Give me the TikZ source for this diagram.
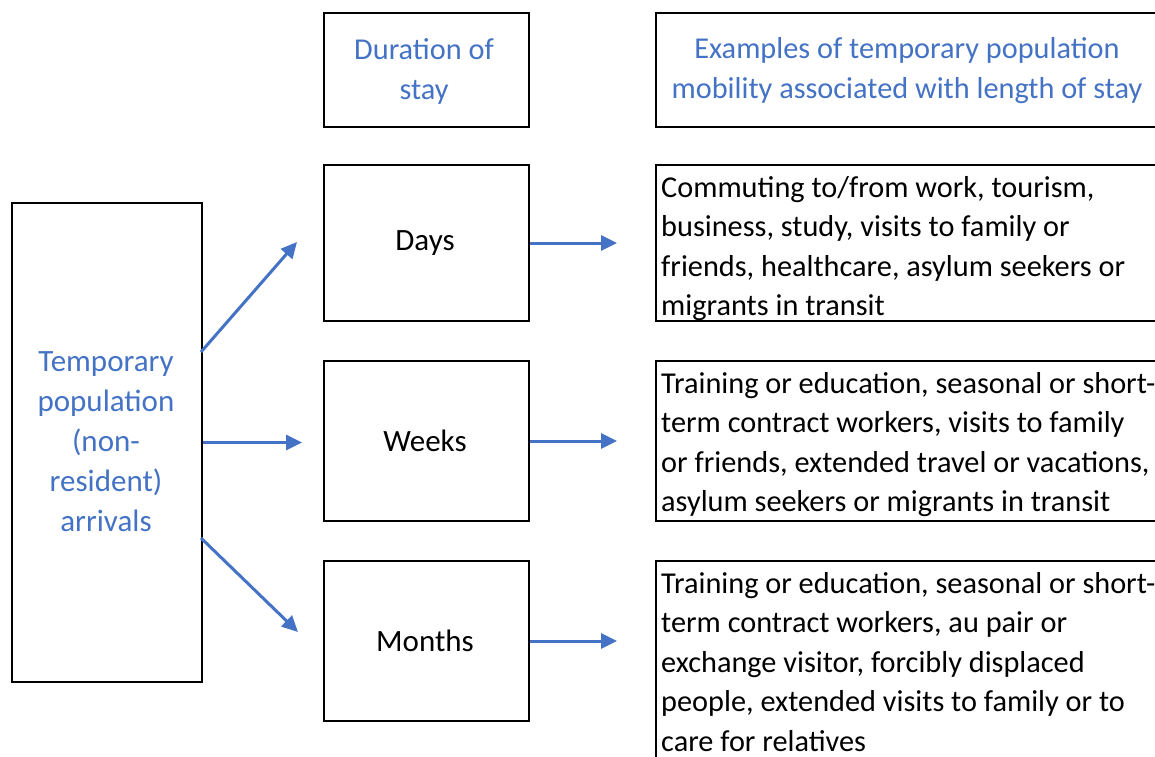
\documentclass[tikz,border=0pt]{standalone}
\usepackage{fontspec}
\setmainfont{Carlito}
\usetikzlibrary{arrows.meta}
\definecolor{mblue}{HTML}{4472C4}
\tikzset{
  box/.style={draw=black, line width=2pt, inner sep=0pt, anchor=north west},
  arr/.style={draw=mblue, line width=3pt, -{Triangle[length=16pt,width=15pt]}},
  body/.style={inner sep=0pt, anchor=north west, align=left, font=\fontsize{30.3}{39.5}\selectfont},
  hdr/.style={inner sep=0pt, align=center, text=mblue, font=\fontsize{30.3}{40}\selectfont},
  lbl/.style={inner sep=0pt, font=\fontsize{31}{40}\selectfont}
}
\begin{document}
\begin{tikzpicture}[x=1pt,y=-1pt]
\useasboundingbox (0,0) rectangle (1155,756);
% left box
\node[box, minimum width=190pt, minimum height=479pt] (src) at (11,202) {};
\node[inner sep=0pt, align=center, text=mblue, font=\fontsize{31}{40}\selectfont] (srct) at (106,442) {Temporary\\population\\(non-\\resident)\\arrivals};
% headers
\node[box, minimum width=205pt, minimum height=114pt] (durh) at (323,12) {};
\node[hdr] (durt) at (424,71) {Duration of\\stay};
\node[box, minimum width=510pt, minimum height=114pt] (exh) at (655,12) {};
\node[hdr] (ext) at (907,71) {Examples of temporary population\\mobility associated with length of stay};
% middle boxes
\node[box, minimum width=205pt, minimum height=156pt] (days) at (323,164) {};
\node[box, minimum width=205pt, minimum height=160pt] (weeks) at (323,360) {};
\node[box, minimum width=205pt, minimum height=160pt] (months) at (323,560) {};
\node[lbl] (dayst) at (425,243) {Days};
\node[lbl] (weekst) at (425,441) {Weeks};
\node[lbl] (monthst) at (425,641) {Months};
% right boxes
\node[box, minimum width=510pt, minimum height=156pt] (daysr) at (655,164) {};
\node[box, minimum width=510pt, minimum height=160pt] (weeksr) at (655,360) {};
\node[box, minimum width=510pt, minimum height=220pt] (monthsr) at (655,560) {};
\node[body] (daysrt) at (661,176) {Commuting to/from work, tourism,\\business, study, visits to family or\\friends, healthcare, asylum seekers or\\migrants in transit};
\node[body] (weeksrt) at (661,372) {Training or education, seasonal or short-\\term contract workers, visits to family\\or friends, extended travel or vacations,\\asylum seekers or migrants in transit};
\node[body] (monthsrt) at (661,572) {Training or education, seasonal or short-\\term contract workers, au pair or\\exchange visitor, forcibly displaced\\people, extended visits to family or to\\care for relatives};
% arrows
\coordinate (s1) at (201,352);
\coordinate (s3) at (201,538);
\coordinate (e1) at (297,242);
\coordinate (e3) at (298,632);
\draw[arr] (s1) -- (e1);
\draw[arr] (src.east) -- ++(99,0) coordinate (e2);
\draw[arr] (s3) -- (e3);
\draw[arr, shorten >=38pt] (days.east) -- (days.east -| daysr.west);
\draw[arr, shorten >=38pt] (weeks.east) -- (weeks.east -| weeksr.west);
\draw[arr, shorten >=38pt] (months.east) -- (months.east -| monthsr.west);
\end{tikzpicture}
\end{document}
